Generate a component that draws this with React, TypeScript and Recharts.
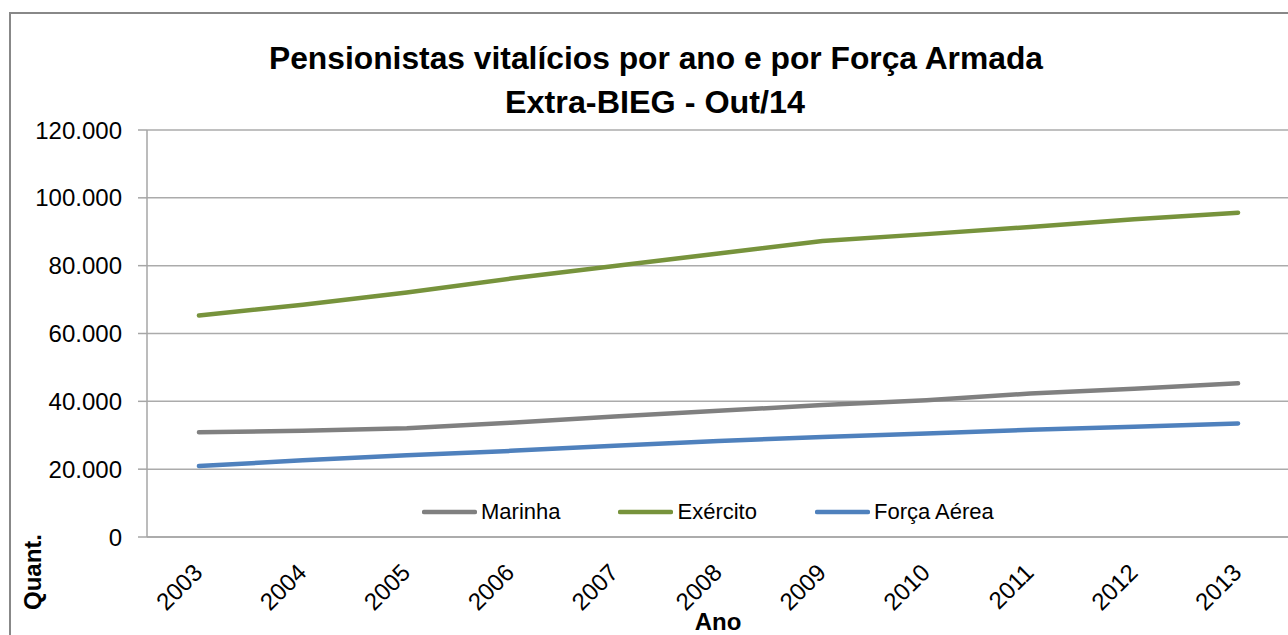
import React from 'react';
import { LineChart, Line, XAxis, YAxis, CartesianGrid } from 'recharts';

const categories = ['2003', '2004', '2005', '2006', '2007', '2008', '2009', '2010', '2011', '2012', '2013'];
const marinha = [30900, 31300, 32100, 33700, 35500, 37200, 38900, 40300, 42300, 43700, 45300];
const exercito = [65300, 68500, 72100, 76200, 79900, 83600, 87300, 89300, 91400, 93700, 95600];
const forcaAerea = [20900, 22600, 24100, 25400, 26900, 28300, 29500, 30500, 31600, 32500, 33500];
const yTicks = [0, 20000, 40000, 60000, 80000, 100000, 120000];

const seriesList = [
  { key: 'Marinha', name: 'Marinha', color: '#808080', values: marinha },
  { key: 'Exercito', name: 'Exército', color: '#77933C', values: exercito },
  { key: 'ForcaAerea', name: 'Força Aérea', color: '#4F81BD', values: forcaAerea },
];

const data = categories.map((year, i) => {
  const row: any = { idx: i, year };
  seriesList.forEach((s) => {
    row[s.key] = s.values[i];
  });
  return row;
});

const boundaryTicks = categories.map((_, i) => i - 0.5).concat([categories.length - 0.5]);
const centerTicks = categories.map((_, i) => i);

const FONT = '"Liberation Sans", Arial, sans-serif';

const fmt = (v: number) => String(v).replace(/\B(?=(\d{3})+(?!\d))/g, '.');

const XTick = (props: any) => {
  const { x, y, payload } = props;
  const ax = x + 5;
  const ay = y + 25;
  return (
    <text
      x={ax}
      y={ay}
      transform={`rotate(-45 ${ax} ${ay})`}
      textAnchor="end"
      fontFamily={FONT}
      fontSize={24}
      fill="#000"
    >
      {categories[payload.value]}
    </text>
  );
};

const ChartLegend = () => (
  <div
    style={{
      position: 'absolute',
      left: 422,
      top: 498,
      display: 'flex',
      alignItems: 'center',
      fontFamily: FONT,
      fontSize: 22,
      lineHeight: '28px',
      color: '#000',
      whiteSpace: 'nowrap',
    }}
  >
    {seriesList.map((s) => (
      <div key={s.key} style={{ display: 'flex', alignItems: 'center', marginRight: 58 }}>
        <svg width={55} height={8} style={{ display: 'block' }}>
          <line x1={2} y1={4} x2={53} y2={4} stroke={s.color} strokeWidth={4.5} strokeLinecap="round" />
        </svg>
        <span style={{ marginLeft: 4 }}>{s.name}</span>
      </div>
    ))}
  </div>
);

export default function App() {
  return (
    <div style={{ position: 'fixed', left: 0, top: 0, width: 1288, height: 635, overflow: 'hidden', background: '#fff' }}>
      <div
        style={{
          position: 'absolute',
          left: 9,
          top: 12,
          width: 1400,
          height: 800,
          border: '2px solid #888888',
          boxSizing: 'border-box',
        }}
      />
      <svg width={1288} height={130} style={{ position: 'absolute', left: 0, top: 0 }}>
        <text
          x={656}
          y={69}
          textAnchor="middle"
          fontFamily={FONT}
          fontWeight="bold"
          fontSize={31}
          textLength={774}
          lengthAdjust="spacingAndGlyphs"
          fill="#000"
        >
          Pensionistas vitalícios por ano e por Força Armada
        </text>
        <text
          x={655}
          y={113}
          textAnchor="middle"
          fontFamily={FONT}
          fontWeight="bold"
          fontSize={31}
          textLength={300}
          lengthAdjust="spacingAndGlyphs"
          fill="#000"
        >
          Extra-BIEG - Out/14
        </text>
      </svg>
      <div style={{ position: 'absolute', left: 0, top: 0 }}>
        <LineChart width={1300} height={635} data={data} margin={{ top: 130, right: 10, bottom: 0, left: 0 }}>
          <CartesianGrid horizontal vertical={false} stroke="#ABABAB" strokeWidth={1.5} />
          <XAxis
            type="number"
            dataKey="idx"
            domain={[-0.5, categories.length - 0.5]}
            ticks={boundaryTicks}
            tick={false}
            tickSize={9}
            height={12}
            axisLine={{ stroke: '#A6A6A6', strokeWidth: 1.5 }}
            tickLine={{ stroke: '#A6A6A6', strokeWidth: 1.5 }}
            allowDataOverflow
          />
          <XAxis
            xAxisId="lab"
            type="number"
            dataKey="idx"
            domain={[-0.5, categories.length - 0.5]}
            ticks={centerTicks}
            tick={<XTick />}
            tickSize={0}
            tickMargin={0}
            tickLine={false}
            axisLine={false}
            height={86}
            interval={0}
            allowDataOverflow
          />
          <YAxis
            type="number"
            domain={[0, 120000]}
            ticks={yTicks}
            tickFormatter={fmt}
            width={147}
            tickSize={9}
            tickMargin={16}
            interval={0}
            axisLine={{ stroke: '#A6A6A6', strokeWidth: 1.5 }}
            tickLine={{ stroke: '#A6A6A6', strokeWidth: 1.5 }}
            tick={{ fontFamily: FONT, fontSize: 24, fill: '#000' }}
          />
          {seriesList.map((s) => (
            <Line
              key={s.key}
              type="linear"
              dataKey={s.key}
              name={s.name}
              stroke={s.color}
              strokeWidth={4.5}
              strokeLinecap="round"
              dot={false}
              activeDot={false}
              isAnimationActive={false}
            />
          ))}
        </LineChart>
      </div>
      <ChartLegend />
      <div
        style={{
          position: 'absolute',
          left: 718,
          top: 608,
          transform: 'translateX(-50%)',
          fontFamily: FONT,
          fontWeight: 'bold',
          fontSize: 24,
          color: '#000',
          whiteSpace: 'nowrap',
          lineHeight: '28px',
        }}
      >
        Ano
      </div>
      <svg width={60} height={635} style={{ position: 'absolute', left: 0, top: 0 }}>
        <text
          x={41}
          y={572}
          transform="rotate(-90 41 572)"
          textAnchor="middle"
          fontFamily={FONT}
          fontWeight="bold"
          fontSize={24}
          fill="#000"
        >
          Quant.
        </text>
      </svg>
    </div>
  );
}
